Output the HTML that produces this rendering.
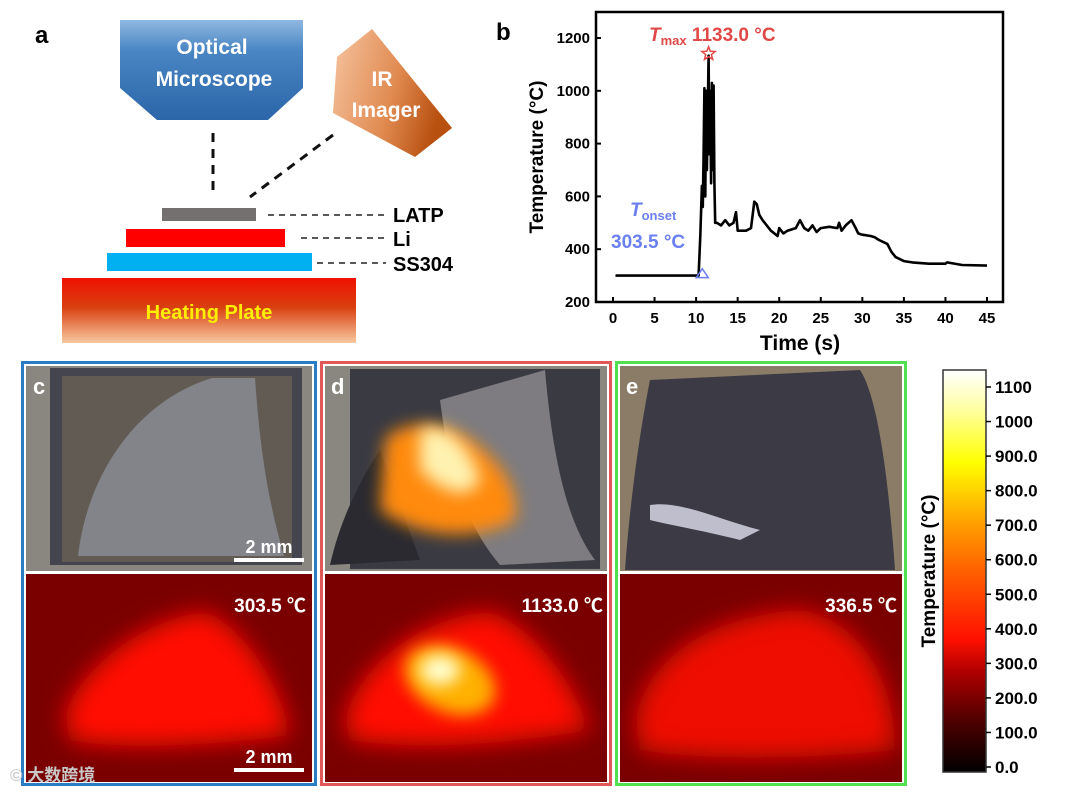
<!DOCTYPE html>
<html><head><meta charset="utf-8">
<style>
html,body{margin:0;padding:0;background:#fff;}
svg{display:block;font-family:"Liberation Sans","Noto Sans CJK SC",sans-serif;}
text{font-weight:bold;}
</style></head>
<body>
<svg id="fig" width="1080" height="793" viewBox="0 0 1080 793" xmlns="http://www.w3.org/2000/svg">
<defs>
<linearGradient id="gMic" x1="0" y1="0" x2="0" y2="1"><stop offset="0" stop-color="#8fb8e0"/><stop offset="0.3" stop-color="#4a86c4"/><stop offset="1" stop-color="#2a66a8"/></linearGradient>
<linearGradient id="gIR" x1="0" y1="0" x2="1" y2="0.3"><stop offset="0" stop-color="#f6c4a0"/><stop offset="0.6" stop-color="#e08a50"/><stop offset="1" stop-color="#b85010"/></linearGradient>
<linearGradient id="gHeat" x1="0" y1="0" x2="0" y2="1"><stop offset="0" stop-color="#f01000"/><stop offset="0.45" stop-color="#d84010"/><stop offset="1" stop-color="#f8c8a0"/></linearGradient>
<linearGradient id="gCbar" x1="0" y1="1" x2="0" y2="0">
<stop offset="0" stop-color="#000"/><stop offset="0.13" stop-color="#500000"/><stop offset="0.25" stop-color="#b00000"/><stop offset="0.33" stop-color="#ff1000"/><stop offset="0.5" stop-color="#ff6000"/><stop offset="0.62" stop-color="#ffa000"/><stop offset="0.77" stop-color="#ffff00"/><stop offset="0.9" stop-color="#ffffa0"/><stop offset="1" stop-color="#fff"/></linearGradient>
<filter id="blur" x="-100%" y="-100%" width="300%" height="300%"><feGaussianBlur stdDeviation="12"/></filter>
<filter id="blur2" x="-100%" y="-100%" width="300%" height="300%"><feGaussianBlur stdDeviation="8"/></filter>
<clipPath id="cIRc"><rect x="26" y="574" width="286" height="208"/></clipPath>
<clipPath id="cIRd"><rect x="325" y="574" width="282" height="208"/></clipPath>
<clipPath id="cIRe"><rect x="620" y="574" width="282" height="208"/></clipPath>
<clipPath id="cPd"><rect x="325" y="366" width="282" height="205"/></clipPath>
<clipPath id="cPe"><rect x="620" y="366" width="282" height="205"/></clipPath>
</defs>

<!-- Panel a -->
<g>
<text x="35" y="43" font-size="24">a</text>
<polygon points="120,20 303,20 303,88 268,120 157,120 120,88" fill="url(#gMic)"/>
<text x="212" y="54" font-size="21" fill="#fff" text-anchor="middle">Optical</text>
<text x="214" y="86" font-size="21" fill="#fff" text-anchor="middle">Microscope</text>
<polygon points="337,57 372,29 452,128 415,157 333,113" fill="url(#gIR)"/>
<text x="382" y="86" font-size="21" fill="#fff" text-anchor="middle">IR</text>
<text x="386" y="117" font-size="21" fill="#fff" text-anchor="middle">Imager</text>
<line x1="213" y1="133" x2="213" y2="193" stroke="#111" stroke-width="3" stroke-dasharray="9,7"/>
<line x1="333" y1="135" x2="250" y2="197" stroke="#111" stroke-width="3" stroke-dasharray="9,7"/>
<rect x="162" y="208" width="94" height="13" fill="#747070"/>
<rect x="126" y="229" width="159" height="18" fill="#ff0000"/>
<rect x="107" y="253" width="205" height="18" fill="#00b0f0"/>
<rect x="62" y="278" width="294" height="65" fill="url(#gHeat)"/>
<text x="209" y="319" font-size="20" fill="#ffee00" text-anchor="middle">Heating Plate</text>
<line x1="268" y1="215" x2="386" y2="215" stroke="#222" stroke-width="1.5" stroke-dasharray="6,5"/>
<line x1="301" y1="238" x2="386" y2="238" stroke="#222" stroke-width="1.5" stroke-dasharray="6,5"/>
<line x1="317" y1="263" x2="386" y2="263" stroke="#222" stroke-width="1.5" stroke-dasharray="6,5"/>
<text x="393" y="222" font-size="20">LATP</text>
<text x="393" y="246" font-size="20">Li</text>
<text x="393" y="271" font-size="20">SS304</text>
</g>

<!-- Panel b chart -->
<g id="chartB">
<text x="496" y="40" font-size="24">b</text>
<rect x="596" y="12" width="407" height="290" fill="none" stroke="#000" stroke-width="2.5"/>
<g id="xticks"></g><g id="yticks"></g>
<path id="series" fill="none" stroke="#000" stroke-width="2.6" stroke-linejoin="round"/>
<text x="543" y="157" font-size="19" text-anchor="middle" transform="rotate(-90 543 157)">Temperature (°C)</text>
<text x="800" y="350" font-size="21" text-anchor="middle">Time (s)</text>
<text x="649" y="41" font-size="19" fill="#e04848"><tspan font-style="italic">T</tspan><tspan font-size="13" dy="4">max</tspan><tspan dy="-4"> 1133.0 °C</tspan></text>
<text x="630" y="216" font-size="19" fill="#6a7ff0"><tspan font-style="italic">T</tspan><tspan font-size="13" dy="4">onset</tspan></text>
<text x="611" y="248" font-size="19" fill="#6a7ff0">303.5 °C</text>
<polygon id="star" fill="none" stroke="#e04848" stroke-width="1.5"/>
<polygon id="tri" fill="none" stroke="#6a7ff0" stroke-width="1.5"/>
</g>

<!-- Panel c -->
<g>
<rect x="22.5" y="362.5" width="293" height="422" fill="none" stroke="#2a7cc4" stroke-width="3"/>
<rect x="26" y="366" width="286" height="205" fill="#8a8680"/>
<rect x="50" y="368" width="252" height="197" fill="#45454f"/>
<rect x="62" y="376" width="230" height="186" fill="#7a6e58" opacity="0.55"/>
<path d="M212,378 L255,378 C260,450 268,500 284,556 L78,556 C88,470 140,400 212,378 Z" fill="#83838a"/>
<text x="33" y="394" font-size="22" fill="#fff">c</text>
<text x="269" y="553" font-size="18" fill="#fff" text-anchor="middle">2 mm</text>
<rect x="234" y="558" width="70" height="4" fill="#fff"/>
<rect x="26" y="574" width="286" height="208" fill="#7a0000"/>
<g clip-path="url(#cIRc)"><path d="M65,715 C80,670 140,620 205,612 C240,625 280,680 290,735 C220,745 120,750 70,740 Z" fill="#ff1000" filter="url(#blur)"/></g>
<text x="306" y="612" font-size="19" fill="#fff" text-anchor="end">303.5 ℃</text>
<text x="269" y="763" font-size="18" fill="#fff" text-anchor="middle">2 mm</text>
<rect x="234" y="768" width="70" height="4" fill="#fff"/>
</g>

<!-- Panel d -->
<g>
<rect x="321.5" y="362.5" width="289" height="422" fill="none" stroke="#e05858" stroke-width="3"/>
<rect x="325" y="366" width="282" height="205" fill="#8a8680"/>
<rect x="350" y="369" width="250" height="200" fill="#3a3a42"/>
<g clip-path="url(#cPd)">
<path d="M440,400 L545,370 C552,450 565,520 595,560 L500,565 C470,530 450,480 440,400 Z" fill="#7e7c80"/>
<path d="M330,565 C340,520 360,480 380,450 L420,560 Z" fill="#2a2a30"/>
<path d="M385,440 C400,420 440,420 470,440 C500,460 520,490 515,520 C480,540 420,540 380,510 Z" fill="#ff8a10" filter="url(#blur2)"/>
<path d="M420,430 C445,420 470,445 480,480 C470,500 445,495 420,470 Z" fill="#fff2b0" filter="url(#blur2)"/>
</g>
<text x="331" y="394" font-size="22" fill="#fff">d</text>
<rect x="325" y="574" width="282" height="208" fill="#7a0000"/>
<g clip-path="url(#cIRd)">
<path d="M345,720 C360,660 430,615 490,612 C540,630 575,690 590,730 C500,745 420,750 350,740 Z" fill="#ff1000" filter="url(#blur)"/>
<ellipse cx="450" cy="680" rx="48" ry="32" fill="#ffb000" filter="url(#blur2)" transform="rotate(25 450 680)"/>
<ellipse cx="440" cy="670" rx="20" ry="15" fill="#ffffd0" filter="url(#blur2)"/>
</g>
<text x="603" y="612" font-size="19" fill="#fff" text-anchor="end">1133.0 ℃</text>
</g>

<!-- Panel e -->
<g>
<rect x="616.5" y="362.5" width="289" height="422" fill="none" stroke="#50e050" stroke-width="3"/>
<rect x="620" y="366" width="282" height="205" fill="#8a7c66"/>
<g clip-path="url(#cPe)">
<path d="M650,380 L860,370 C880,400 890,500 895,570 L625,570 C630,500 640,430 650,380 Z" fill="#3c3a44"/>
<path d="M650,505 C680,500 720,520 760,530 L740,540 C700,530 670,525 650,520 Z" fill="#e0e0f0" opacity="0.8"/>
</g>
<text x="626" y="394" font-size="22" fill="#fff">e</text>
<rect x="620" y="574" width="282" height="208" fill="#7a0000"/>
<g clip-path="url(#cIRe)">
<path d="M635,720 C650,650 720,615 800,610 C860,620 895,680 895,750 C800,760 700,760 640,750 Z" fill="#ee0800" filter="url(#blur)"/>
</g>
<text x="897" y="612" font-size="19" fill="#fff" text-anchor="end">336.5 ℃</text>
</g>

<!-- Colorbar -->
<g id="cbar">
<rect x="943" y="370" width="43" height="402" fill="url(#gCbar)" stroke="#333" stroke-width="1.5"/>
<text x="935" y="571" font-size="19" text-anchor="middle" transform="rotate(-90 935 571)">Temperature (°C)</text>
</g>

<text x="10" y="781" font-size="17" fill="#c8c8c8" font-weight="normal">© 大数跨境</text>
</svg>

<script>
const timeValues = [0.3,10.3,10.5,10.7,10.8,10.9,11.0,11.1,11.2,11.3,11.5,11.6,11.7,11.8,11.9,12.0,12.1,12.2,12.3,12.5,13,13.5,14,14.5,14.8,15,16,16.6,17,17.3,17.6,18,19,19.8,20,20.5,21,22,22.5,23,23.5,24,24.5,25,26,27,27.2,27.5,28,28.7,29.2,29.5,30,31,31.5,32,33,33.5,34,35,36,38,40,40.2,42,45];
const tempValues = [300,300,450,640,560,760,1010,600,1000,700,1133,760,1000,650,1030,700,1020,650,500,500,490,510,490,500,540,470,470,480,580,570,530,510,470,450,480,460,470,480,510,480,470,490,465,480,485,480,500,470,490,510,480,460,455,450,445,435,420,390,370,355,350,345,345,350,340,338];
const xTickValues = [0,5,10,15,20,25,30,35,40,45];
const yTickValues = [200,400,600,800,1000,1200];
const tmaxPoint = [11.5,1133];
const tonsetPoint = [10.5,303.5];
const cbarTickLabels = ["0.0","100.0","200.0","300.0","400.0","500.0","600.0","700.0","800.0","900.0","1000","1100"];
const cbarTickValues = [0,100,200,300,400,500,600,700,800,900,1000,1100];

const NS = "http://www.w3.org/2000/svg";
const xs = t => 613 + (t - 0) * (987 - 613) / 45;
const ys = v => 302 - (v - 200) * (302 - 38) / 1000;
const cs = v => 767 - v * (767 - 387) / 1100;

function mk(tag, attrs, parent, txt){
  const e = document.createElementNS(NS, tag);
  for (const k in attrs) e.setAttribute(k, attrs[k]);
  if (txt !== undefined) e.textContent = txt;
  parent.appendChild(e);
  return e;
}

let d = "";
timeValues.forEach((t,i) => { d += (i ? "L" : "M") + xs(t).toFixed(1) + "," + ys(tempValues[i]).toFixed(1); });
document.getElementById("series").setAttribute("d", d);

const xg = document.getElementById("xticks");
xTickValues.forEach(v => {
  const l = mk("line", {x1:xs(v), x2:xs(v), y1:302, y2:297, stroke:"#000", "stroke-width":2}, xg);
  
  
  const t = mk("text", {x:xs(v), y:323, "font-size":15, "text-anchor":"middle"}, xg, String(v));
  
  
});
const yg = document.getElementById("yticks");
yTickValues.forEach(v => {
  const l = mk("line", {x1:596, x2:601, y1:ys(v), y2:ys(v), stroke:"#000", "stroke-width":2}, yg);
  
  
  const t = mk("text", {x:590, y:ys(v)+5, "font-size":15, "text-anchor":"end"}, yg, String(v));
  
  
});

(function(){
  const cx = xs(tmaxPoint[0]), cy = ys(tmaxPoint[1]) - 2; const pts = [];
  for (let i = 0; i < 10; i++){ const r = i % 2 ? 3 : 7; const a = -Math.PI/2 + i*Math.PI/5; pts.push((cx + r*Math.cos(a)).toFixed(1) + "," + (cy + r*Math.sin(a)).toFixed(1)); }
  document.getElementById("star").setAttribute("points", pts.join(" "));
  const tx = xs(tonsetPoint[0]) + 2, ty = ys(tonsetPoint[1]);
  document.getElementById("tri").setAttribute("points", `${tx-6},${ty+3} ${tx+6},${ty+3} ${tx},${ty-6}`);
})();

const cb = document.getElementById("cbar");
cbarTickValues.forEach((v,i) => {
  const l = mk("line", {x1:986, x2:991, y1:cs(v), y2:cs(v), stroke:"#000", "stroke-width":1.5}, cb);
  
  
  const t = mk("text", {x:995, y:cs(v)+6, "font-size":17}, cb, cbarTickLabels[i]);
  
  
});
</script>
</body></html>
